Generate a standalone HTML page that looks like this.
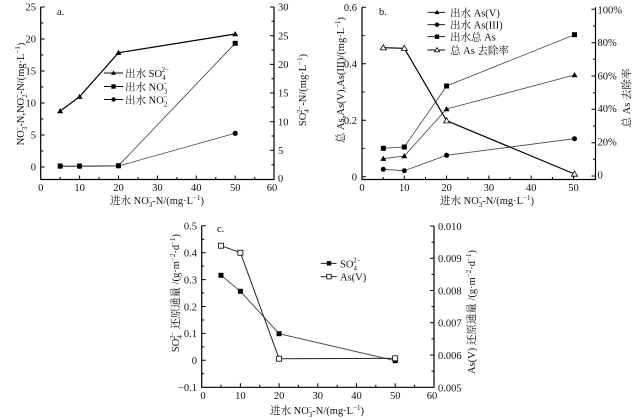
<!DOCTYPE html>
<html><head><meta charset="utf-8">
<style>
html,body{margin:0;padding:0;background:#fff;}
svg{display:block;}
text{font-family:"Liberation Serif","Noto Serif CJK SC",serif;fill:#111;}
</style></head>
<body>
<svg width="640" height="420" viewBox="0 0 640 420" xmlns="http://www.w3.org/2000/svg">
<rect width="640" height="420" fill="#fff"/>

<!-- ================= Chart a ================= -->
<g stroke="#000" fill="none" stroke-width="1.2">
<path d="M40.7,7 V179.5 H274 V7"/>
<path stroke-width="1" d="M40.7,167h4 M40.7,135h4 M40.7,103h4 M40.7,71h4 M40.7,39h4 M40.7,7h4
M40.7,151h2.5 M40.7,119h2.5 M40.7,87h2.5 M40.7,55h2.5 M40.7,23h2.5
M79.6,179.5v-4 M118.5,179.5v-4 M157.4,179.5v-4 M196.3,179.5v-4 M235.2,179.5v-4
M60.2,179.5v-2.5 M99.1,179.5v-2.5 M138,179.5v-2.5 M176.9,179.5v-2.5 M215.8,179.5v-2.5 M254.7,179.5v-2.5
M274,150.3h-4 M274,121.7h-4 M274,93h-4 M274,64.4h-4 M274,35.7h-4 M274,7h-4
M274,164.7h-2.5 M274,136h-2.5 M274,107.3h-2.5 M274,78.7h-2.5 M274,50h-2.5 M274,21.3h-2.5"/>
</g>
<g font-size="10.5" text-anchor="end">
<text x="36" y="170.7">0</text><text x="36" y="138.7">5</text><text x="36" y="106.7">10</text>
<text x="36" y="74.7">15</text><text x="36" y="42.7">20</text><text x="36" y="10.7">25</text>
</g>
<g font-size="10.5" text-anchor="middle">
<text x="40.7" y="191">0</text><text x="79.6" y="191">10</text><text x="118.5" y="191">20</text>
<text x="157.4" y="191">30</text><text x="196.3" y="191">40</text><text x="235.2" y="191">50</text>
<text x="272" y="191">60</text>
</g>
<g font-size="10.5">
<text x="278" y="182">0</text><text x="278" y="154">5</text><text x="278" y="125.4">10</text>
<text x="278" y="96.7">15</text><text x="278" y="68.1">20</text><text x="278" y="39.4">25</text>
<text x="278" y="10.7">30</text>
</g>
<text x="57" y="15" font-size="10.5">a.</text>
<!-- data a -->
<g fill="none">
<polyline points="60.2,166 79.6,166 118.5,165.7 235.2,43.3" stroke="#444" stroke-width="0.8"/>
<polyline points="60.2,166.5 79.6,166.5 118.5,166 235.2,133.3" stroke="#444" stroke-width="0.8"/>
<polyline points="60.2,111 79.6,96.7 118.5,52.7 235.2,34" stroke="#000" stroke-width="1.2"/>
</g>
<g fill="#000">
<polygon points="60.2,108 57.2,113.2 63.2,113.2"/><polygon points="79.6,93.7 76.6,98.9 82.6,98.9"/>
<polygon points="118.5,49.7 115.5,54.9 121.5,54.9"/><polygon points="235.2,31 232.2,36.2 238.2,36.2"/>
<rect x="57.7" y="163.5" width="5" height="5"/><rect x="77.1" y="163.5" width="5" height="5"/>
<rect x="116" y="163.2" width="5" height="5"/><rect x="232.7" y="40.8" width="5" height="5"/>
<circle cx="60.2" cy="166.5" r="2.4"/><circle cx="79.6" cy="166.5" r="2.4"/>
<circle cx="118.5" cy="166" r="2.4"/><circle cx="235.2" cy="133.3" r="2.6"/>
</g>
<!-- legend a -->
<g stroke="#000" stroke-width="0.9">
<line x1="104" y1="73" x2="123" y2="73"/><line x1="104" y1="86.5" x2="123" y2="86.5"/><line x1="104" y1="99.5" x2="123" y2="99.5"/>
</g>
<polygon points="113.5,70.5 111,74.8 116,74.8"/>
<rect x="111.3" y="84.3" width="4.4" height="4.4"/>
<circle cx="113.5" cy="99.5" r="2.2"/>
<g font-size="10.5">
<text x="125" y="77">出水 SO<tspan font-size="7" dy="3">4</tspan><tspan font-size="7" dx="-4" dy="-8">2−</tspan></text>
<text x="125" y="90.5">出水 NO<tspan font-size="7" dy="3">3</tspan><tspan font-size="7" dx="-4" dy="-8">−</tspan></text>
<text x="125" y="103.5">出水 NO<tspan font-size="7" dy="3">2</tspan><tspan font-size="7" dx="-4" dy="-8">−</tspan></text>
</g>
<!-- axis labels a -->
<text transform="translate(24,94) rotate(-90)" text-anchor="middle" font-size="10.5">NO<tspan font-size="7" dy="3">3</tspan><tspan font-size="7" dx="-4" dy="-7">−</tspan><tspan dy="4">-N,NO</tspan><tspan font-size="7" dy="3">2</tspan><tspan font-size="7" dx="-4" dy="-7">−</tspan><tspan dy="4">-N/(mg·L</tspan><tspan font-size="7" dy="-4">−1</tspan><tspan dy="4">)</tspan></text>
<text transform="translate(306,90) rotate(-90)" text-anchor="middle" font-size="10.5">SO<tspan font-size="7" dy="3">4</tspan><tspan font-size="7" dx="-4" dy="-7">2−</tspan><tspan dy="4">-N/(mg·L</tspan><tspan font-size="7" dy="-4">−1</tspan><tspan dy="4">)</tspan></text>
<text x="157" y="204" text-anchor="middle" font-size="10.5">进水 NO<tspan font-size="7" dy="3">3</tspan><tspan font-size="7" dx="-4" dy="-7">−</tspan><tspan dy="4">-N/(mg·L</tspan><tspan font-size="7" dy="-4">−1</tspan><tspan dy="4">)</tspan></text>

<!-- ================= Chart b ================= -->
<g stroke="#000" fill="none" stroke-width="1.2">
<path d="M362,7.2 V179.5 H595.5 V7.2"/>
<path stroke-width="1" d="M362,176.7h4 M362,120.2h4 M362,63.7h4 M362,7.2h4
M362,148.5h2.5 M362,92h2.5 M362,35.5h2.5
M404.3,179.5v-4 M446.6,179.5v-4 M488.9,179.5v-4 M531.2,179.5v-4 M573.5,179.5v-4
M383.2,179.5v-2.5 M425.5,179.5v-2.5 M467.8,179.5v-2.5 M510,179.5v-2.5 M552.4,179.5v-2.5
M595.5,176h-4 M595.5,142.7h-4 M595.5,109.3h-4 M595.5,76h-4 M595.5,42.7h-4 M595.5,9.3h-4
M595.5,159.3h-2.5 M595.5,126h-2.5 M595.5,92.7h-2.5 M595.5,59.3h-2.5 M595.5,26h-2.5"/>
</g>
<g font-size="10.5" text-anchor="end">
<text x="357" y="180.5">0</text><text x="357" y="124">0.2</text><text x="357" y="67.5">0.4</text><text x="357" y="11">0.6</text>
</g>
<g font-size="10.5" text-anchor="middle">
<text x="362" y="191">0</text><text x="404.3" y="191">10</text><text x="446.6" y="191">20</text>
<text x="488.9" y="191">30</text><text x="531.2" y="191">40</text><text x="573.5" y="191">50</text>
</g>
<g font-size="10.5">
<text x="597.5" y="178.5">0</text><text x="597.5" y="145.5">20%</text><text x="597.5" y="112">40%</text>
<text x="597.5" y="79.5">60%</text><text x="597.5" y="46.2">80%</text><text x="597.5" y="13.5">100%</text>
</g>
<text x="379" y="15" font-size="10.5">b.</text>
<!-- data b -->
<g fill="none" stroke="#444" stroke-width="0.8">
<polyline points="383.3,148.3 404.3,147 446.6,86 574.5,34.7"/>
<polyline points="383.3,158.7 404.3,156 446.6,109 574.5,75"/>
<polyline points="383.3,169.3 404.3,170.7 446.6,155.3 574.5,138.7"/>
</g>
<polyline points="383.3,47.7 404.3,48.3 446.6,120.7 574.5,174" fill="none" stroke="#000" stroke-width="1.2"/>
<g fill="#000">
<rect x="380.8" y="145.8" width="5" height="5"/><rect x="401.8" y="144.5" width="5" height="5"/>
<rect x="444.1" y="83.5" width="5" height="5"/><rect x="572" y="32.2" width="5" height="5"/>
<polygon points="383.3,155.7 380.3,160.9 386.3,160.9"/><polygon points="404.3,153 401.3,158.2 407.3,158.2"/>
<polygon points="446.6,106 443.6,111.2 449.6,111.2"/><polygon points="574.5,72 571.5,77.2 577.5,77.2"/>
<circle cx="383.3" cy="169.3" r="2.5"/><circle cx="404.3" cy="170.7" r="2.5"/>
<circle cx="446.6" cy="155.3" r="2.5"/><circle cx="574.5" cy="138.7" r="2.5"/>
</g>
<g fill="#fff" stroke="#000" stroke-width="0.8">
<polygon points="383.3,44.7 380.3,49.9 386.3,49.9"/><polygon points="404.3,45.3 401.3,50.5 407.3,50.5"/>
<polygon points="446.6,117.7 443.6,122.9 449.6,122.9"/><polygon points="574.5,171 571.5,176.2 577.5,176.2"/>
</g>
<!-- legend b -->
<g stroke="#000" stroke-width="0.9">
<line x1="427.5" y1="12.3" x2="445" y2="12.3"/><line x1="427.5" y1="24.7" x2="445" y2="24.7"/>
<line x1="427.5" y1="36.7" x2="445" y2="36.7"/><line x1="427.5" y1="50" x2="445" y2="50"/>
</g>
<polygon points="437,9.8 434.5,14.1 439.5,14.1"/>
<circle cx="437" cy="24.7" r="2.2"/>
<rect x="434.8" y="34.5" width="4.4" height="4.4"/>
<polygon points="437,47.5 434.5,51.8 439.5,51.8" fill="#fff" stroke="#000" stroke-width="0.8"/>
<g font-size="10.5">
<text x="450" y="16.3">出水 As(V)</text>
<text x="450" y="28.7">出水 As(III)</text>
<text x="450" y="40.7">出水总 As</text>
<text x="450" y="54">总 As 去除率</text>
</g>
<text transform="translate(344,80) rotate(-90)" text-anchor="middle" font-size="10.5">总 As,As(V),As(III)/(mg·L<tspan font-size="7" dy="-4">−1</tspan><tspan dy="4">)</tspan></text>
<text transform="translate(630,98) rotate(-90)" text-anchor="middle" font-size="10.5">总 As 去除率</text>
<text x="487" y="204" text-anchor="middle" font-size="10.5">进水 NO<tspan font-size="7" dy="3">3</tspan><tspan font-size="7" dx="-4" dy="-7">−</tspan><tspan dy="4">-N/(mg·L</tspan><tspan font-size="7" dy="-4">−1</tspan><tspan dy="4">)</tspan></text>

<!-- ================= Chart c ================= -->
<g stroke="#000" fill="none" stroke-width="1.2">
<path d="M201.7,226 V387.3 H434 V226"/>
<path stroke-width="1" d="M201.7,225.8h4 M201.7,252.7h4 M201.7,279.6h4 M201.7,306.5h4 M201.7,333.4h4 M201.7,360.3h4
M201.7,239.25h2.5 M201.7,266.15h2.5 M201.7,293.05h2.5 M201.7,319.95h2.5 M201.7,346.85h2.5 M201.7,373.75h2.5
M240.4,387.3v-4 M279.1,387.3v-4 M317.8,387.3v-4 M356.5,387.3v-4 M395.2,387.3v-4
M221.05,387.3v-2.5 M259.75,387.3v-2.5 M298.45,387.3v-2.5 M337.15,387.3v-2.5 M375.85,387.3v-2.5 M414.55,387.3v-2.5
M434,226h-4 M434,258.3h-4 M434,290.5h-4 M434,322.8h-4 M434,355h-4
M434,242.15h-2.5 M434,274.4h-2.5 M434,306.65h-2.5 M434,338.9h-2.5 M434,371.15h-2.5"/>
</g>
<g font-size="10.5" text-anchor="end">
<text x="197" y="229.6">0.5</text><text x="197" y="256.5">0.4</text><text x="197" y="283.4">0.3</text>
<text x="197" y="310.3">0.2</text><text x="197" y="337.2">0.1</text><text x="197" y="364.1">0</text>
<text x="197" y="391">−0.1</text>
</g>
<g font-size="10.5" text-anchor="middle">
<text x="203" y="399">0</text><text x="240.4" y="399">10</text><text x="279.1" y="399">20</text>
<text x="317.8" y="399">30</text><text x="356.5" y="399">40</text><text x="395.2" y="399">50</text>
<text x="432" y="399">60</text>
</g>
<g font-size="10.5">
<text x="438" y="229.8">0.010</text><text x="438" y="262.1">0.009</text><text x="438" y="294.3">0.008</text>
<text x="438" y="326.6">0.007</text><text x="438" y="358.8">0.006</text><text x="438" y="391.3">0.005</text>
</g>
<text x="217" y="232" font-size="10.5">c.</text>
<!-- data c -->
<polyline points="221,275.3 240.4,291.3 279.1,333.7 395.2,360.7" fill="none" stroke="#444" stroke-width="0.9"/>
<polyline points="221,245.7 240.4,252.7 279.1,358.7 395.2,358.3" fill="none" stroke="#222" stroke-width="1"/>
<g fill="#000">
<rect x="218.5" y="272.8" width="5" height="5"/><rect x="237.9" y="288.8" width="5" height="5"/>
<rect x="276.6" y="331.2" width="5" height="5"/><rect x="392.7" y="358.2" width="5" height="5"/>
</g>
<g fill="#fff" stroke="#000" stroke-width="0.8">
<rect x="218.5" y="243.2" width="5" height="5"/><rect x="237.9" y="250.2" width="5" height="5"/>
<rect x="276.6" y="356.2" width="5" height="5"/><rect x="392.7" y="355.8" width="5" height="5"/>
</g>
<!-- legend c -->
<g stroke="#000" stroke-width="0.9">
<line x1="320.7" y1="263.3" x2="336.7" y2="263.3"/><line x1="320.7" y1="276.7" x2="336.7" y2="276.7"/>
</g>
<rect x="326.8" y="261.1" width="4.4" height="4.4"/>
<rect x="326.8" y="274.5" width="4.4" height="4.4" fill="#fff" stroke="#000" stroke-width="0.8"/>
<g font-size="10.5">
<text x="340" y="267.3">SO<tspan font-size="7" dy="3">4</tspan><tspan font-size="7" dx="-4" dy="-8">2−</tspan></text>
<text x="340" y="280.7">As(V)</text>
</g>
<text transform="translate(179,293) rotate(-90)" text-anchor="middle" font-size="10.5">SO<tspan font-size="7" dy="3">4</tspan><tspan font-size="7" dx="-4" dy="-7">2−</tspan><tspan dy="4"> 还原通量 /(g·m</tspan><tspan font-size="7" dy="-4">−2</tspan><tspan dy="4">·d</tspan><tspan font-size="7" dy="-4">−1</tspan><tspan dy="4">)</tspan></text>
<text transform="translate(475,312) rotate(-90)" text-anchor="middle" font-size="10.5">As(V) 还原通量 /(g·m<tspan font-size="7" dy="-4">−2</tspan><tspan dy="4">·d</tspan><tspan font-size="7" dy="-4">−1</tspan><tspan dy="4">)</tspan></text>
<text x="317" y="414" text-anchor="middle" font-size="10.5">进水 NO<tspan font-size="7" dy="3">3</tspan><tspan font-size="7" dx="-4" dy="-7">−</tspan><tspan dy="4">-N/(mg·L</tspan><tspan font-size="7" dy="-4">−1</tspan><tspan dy="4">)</tspan></text>
</svg>
</body></html>
